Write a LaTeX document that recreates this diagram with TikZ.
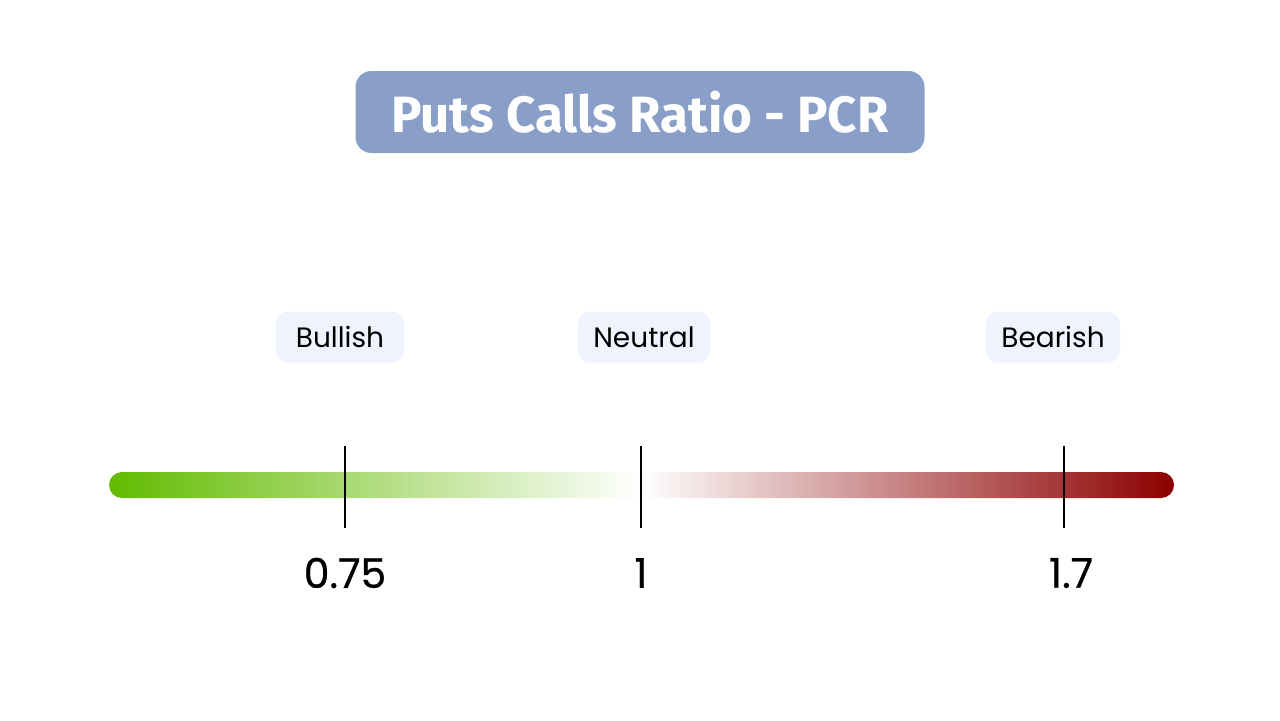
\documentclass[tikz,border=0pt]{standalone}
\usepackage{fontspec}
\setmainfont{Poppins}
\newfontfamily\titlefont{Fira Sans}
\newfontfamily\numfont[FakeBold=0.6]{Poppins}
\definecolor{titleblue}{HTML}{8A9FC8}
\definecolor{tagblue}{HTML}{EEF3FD}
\definecolor{bullgreen}{HTML}{62BB00}
\definecolor{beardred}{HTML}{8C0000}
\tikzset{
	titlebox/.style={fill=titleblue, rounded corners=8pt, inner sep=0pt, minimum width=284.5pt, minimum height=41pt, text=white, font=\titlefont\bfseries\fontsize{25.5}{28}\selectfont},
	tagbox/.style={fill=tagblue, rounded corners=6pt, inner sep=0pt, minimum height=25.5pt, font=\fontsize{14}{16}\selectfont},
	tick/.style={line width=1.3pt, black},
	value/.style={font=\numfont\fontsize{20.5}{22}\selectfont}
}
\begin{document}
\begin{tikzpicture}[x=0.5pt,y=-0.5pt]
	\useasboundingbox [fill=white] (0,0) rectangle (1280,720);
	
	\node [titlebox] (title) at (640,112) {Puts Calls Ratio - PCR};
	
	\node [tagbox, minimum width=64pt] (bullish) at (340,337) {Bullish};
	\node [tagbox, minimum width=66pt] (neutral) at (644,337) {Neutral};
	\node [tagbox, minimum width=67pt] (bearish) at (1053,337) {Bearish};
	
	% colour bar
	\begin{scope}
	\clip [rounded corners=6.5pt] (109,472) rectangle (1174,498);
	\shade [left color=bullgreen, right color=white] (109,472) rectangle (641,498);
	\shade [left color=white, right color=beardred] (641,472) rectangle (1174,498);
	\end{scope}
	
	\coordinate (t1) at (345,446);
	\coordinate (b1) at (345,528);
	\coordinate (t2) at (641,446);
	\coordinate (b2) at (641,528);
	\coordinate (t3) at (1064,446);
	\coordinate (b3) at (1064,528);
	\draw [tick] (t1) -- (b1);
	\draw [tick] (t2) -- (b2);
	\draw [tick] (t3) -- (b3);
	
	\node [value] (low) at (345,573) {0.75};
	\node [value] (mid) at (641,573) {1};
	\node [value] (high) at (1071,573) {1.7};
\end{tikzpicture}
\end{document}
